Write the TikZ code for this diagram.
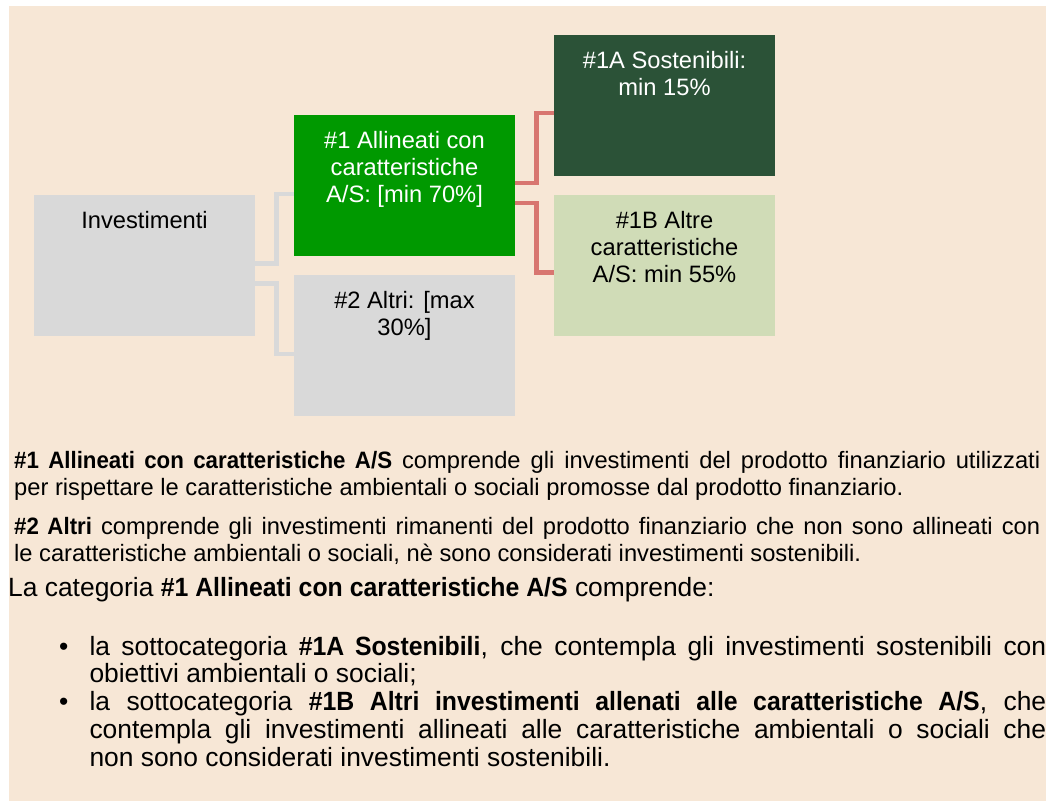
\documentclass[tikz,border=0pt]{standalone}
\usepackage{fontspec}
\setmainfont[BoldFeatures={FakeStretch=0.94}]{Liberation Sans}
\usetikzlibrary{positioning}
\definecolor{sand}{HTML}{F7E7D6}
\definecolor{leafgreen}{HTML}{009900}
\definecolor{pinegreen}{HTML}{2B5237}
\definecolor{sagegreen}{HTML}{D0DCB7}
\definecolor{boxgrey}{HTML}{D9D9D9}
\definecolor{linkred}{HTML}{D87670}
\hyphenpenalty=10000
\exhyphenpenalty=10000
\hbadness=10000

\begin{document}
\begin{tikzpicture}[x=1pt,y=-1pt,
  box/.style={minimum width=221pt, minimum height=141pt, inner sep=0pt},
  boxtxt/.style={inner sep=0pt, align=center, font=\fontsize{23.7}{27}\selectfont},
  link/.style={line width=4.5pt},
  para/.style={inner sep=0pt, anchor=base west, text width=1026pt, align=justify, font=\fontsize{23.7}{26.7}\selectfont},
  itm/.style={inner sep=0pt, anchor=base west, text width=956.7pt, align=justify, font=\fontsize{26.4}{27.7}\selectfont},
  dot/.style={inner sep=0pt, anchor=base west, font=\fontsize{26.4}{27.7}\selectfont}]
\useasboundingbox (0,0) rectangle (1050,803);
\fill[sand] (9,6) rectangle (1046,801);
\node[box, fill=boxgrey] (inv) at (144.5,265.5) {};
\node[box, fill=leafgreen] (all) at (404.5,185.5) {};
\node[box, fill=boxgrey] (alt) at (404.5,345.5) {};
\node[box, fill=pinegreen] (sos) at (664.5,105.5) {};
\node[box, fill=sagegreen] (atr) at (664.5,265.5) {};
\node[boxtxt, below=16.5pt of inv.north] (invtxt) {Investimenti};
\node[boxtxt, text=white, below=16.5pt of all.north] (alltxt) {\#1 Allineati con\\caratteristiche\\A/S: [min 70\%]};
\node[boxtxt, below=16.5pt of alt.north] (alttxt) {\#2 Altri: [max\\30\%]};
\node[boxtxt, text=white, below=16.5pt of sos.north] (sostxt) {\#1A Sostenibili:\\min 15\%};
\node[boxtxt, below=16.5pt of atr.north] (atrtxt) {\#1B Altre\\caratteristiche\\A/S: min 55\%};
\draw[link, boxgrey] ([yshift=2pt]inv.east) -- ++(21.5,0) |- ([yshift=-8.5pt]all.west);
\draw[link, boxgrey] ([yshift=-18pt]inv.east) -- ++(21.5,0) |- ([yshift=-8.5pt]alt.west);
\draw[link, linkred] ([yshift=2.5pt]all.east) -- ++(21.5,0) |- ([yshift=-7.5pt]sos.west);
\draw[link, linkred] ([yshift=-17.5pt]all.east) -- ++(21.5,0) |- ([yshift=-7pt]atr.west);
\node[para] (par1) at (14,468.3) {\textbf{\#1 Allineati con caratteristiche A/S} comprende gli investimenti del prodotto finanziario utilizzati\linebreak per rispettare le caratteristiche ambientali o sociali promosse dal prodotto finanziario.};
\node[para] (par2) at (14,534.3) {\textbf{\#2 Altri} comprende gli investimenti rimanenti del prodotto finanziario che non sono allineati con\linebreak le caratteristiche ambientali o sociali, nè sono considerati investimenti sostenibili.};
\node[dot] (cat) at (8,596.7) {La categoria \textbf{\#1 Allineati con caratteristiche A/S} comprende:};
\node[dot] (dot1) at (59,655) {•};
\node[itm] (itm1) at (89.3,655) {la sottocategoria \textbf{\#1A Sostenibili}, che contempla gli investimenti sostenibili con\linebreak obiettivi ambientali o sociali;};
\node[dot] (dot2) at (59,710.7) {•};
\node[itm] (itm2) at (89.3,710.7) {la sottocategoria \textbf{\#1B Altri investimenti allenati alle caratteristiche A/S}, che\linebreak contempla gli investimenti allineati alle caratteristiche ambientali o sociali che\linebreak non sono considerati investimenti sostenibili.};
\end{tikzpicture}
\end{document}
